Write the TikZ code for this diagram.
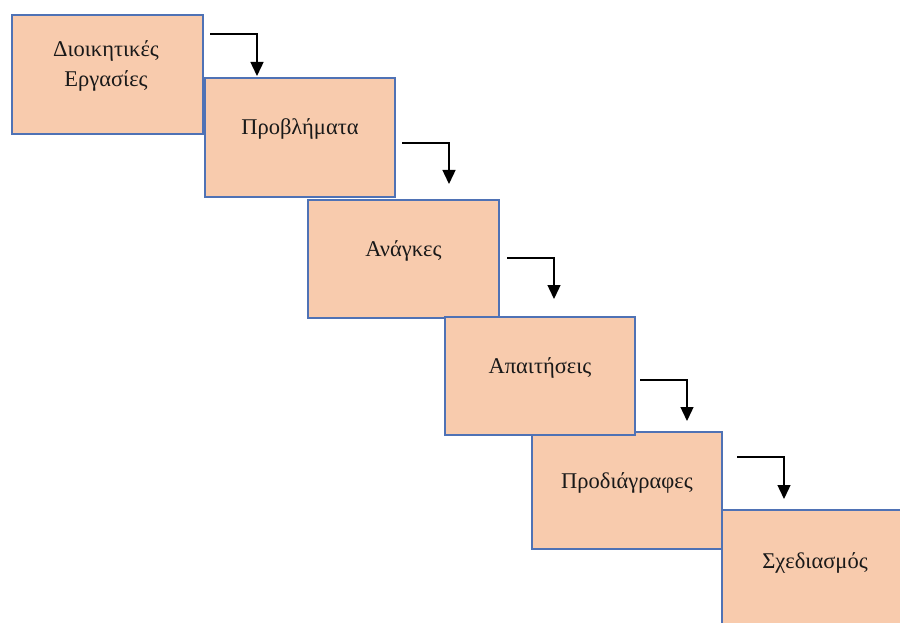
\documentclass[tikz,border=0pt]{standalone}
\usepackage{fontspec}
\setmainfont{Liberation Serif}
\usetikzlibrary{arrows.meta}
\definecolor{boxfill}{HTML}{F8CBAD}
\definecolor{boxline}{HTML}{4F72B5}
\tikzset{
  stepbox/.style={draw=boxline, fill=boxfill, line width=1.9pt, rectangle,
    anchor=north west, minimum width=190pt, minimum height=118pt, inner sep=0pt},
  lbl/.style={anchor=base, inner sep=0pt, font=\fontsize{22.5pt}{30pt}\selectfont, text=black!90, align=center},
  arr/.style={draw=black, line width=1.4pt, -{Triangle[width=13pt,length=14pt]}}
}
\begin{document}
\begin{tikzpicture}[x=1pt,y=-1pt]
\useasboundingbox (0,0) rectangle (900,623);
% boxes
\node[stepbox] (b6) at (721,509) {};
\node[stepbox, minimum width=191pt, minimum height=119pt] (b1) at (11,14) {};
\node[stepbox, minimum height=119pt] (b2) at (204,77) {};
\node[stepbox, minimum width=191pt] (b3) at (307,199) {};
\node[stepbox, minimum height=117pt] (b5) at (531,431) {};
\node[stepbox] (b4) at (444,316) {};
% labels
\node[lbl] (t1) at (106,87) {Διοικητικές\\Εργασίες};
\node[lbl] (t2) at ([yshift=-58pt]b2.north) {Προβλήματα};
\node[lbl] (t3) at ([yshift=-57pt]b3.north) {Ανάγκες};
\node[lbl] (t4) at ([yshift=-57pt]b4.north) {Απαιτήσεις};
\node[lbl] (t5) at ([yshift=-57pt]b5.north) {Προδιάγραφες};
\node[lbl] (t6) at (815,568) {Σχεδιασμός};
% arrows
\coordinate (s1) at (210,34);  \coordinate (e1) at (257,76);
\coordinate (s2) at (402,143); \coordinate (e2) at (449,184);
\coordinate (s3) at (507,258); \coordinate (e3) at (554,299);
\coordinate (s4) at (640,380); \coordinate (e4) at (687,421);
\coordinate (s5) at (737,457); \coordinate (e5) at (784,499);
\draw[arr] (s1) -| (e1);
\draw[arr] (s2) -| (e2);
\draw[arr] (s3) -| (e3);
\draw[arr] (s4) -| (e4);
\draw[arr] (s5) -| (e5);
\end{tikzpicture}
\end{document}
